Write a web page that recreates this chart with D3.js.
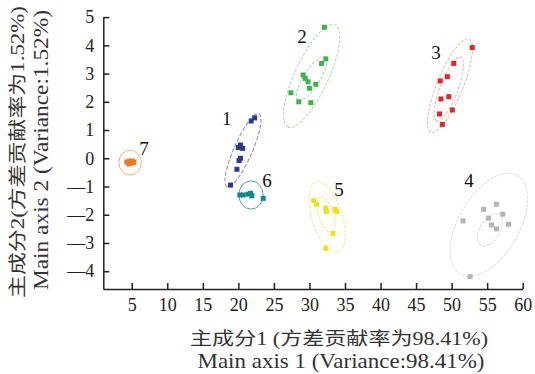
<!DOCTYPE html>
<html lang="zh">
<head>
    <meta charset="UTF-8">
    <title>PCA scatter</title>
    <style>
        body { margin: 0; background: #fff; }
        .axis path,
        .axis line {
            stroke: #222;
            stroke-width: 1.5;
            fill: none;
        }
        .axis text {
            font-family: "Liberation Serif", "Noto Sans CJK SC", serif;
            font-size: 18px;
            fill: #222;
        }
        .title {
            font-family: "Liberation Serif", "Noto Sans CJK SC", serif;
            fill: #333;
        }
    </style>
</head>
<body>
    <div id='chart'></div>

    <script src='https://cdnjs.cloudflare.com/ajax/libs/d3/7.8.5/d3.min.js'></script>
    <script type='text/javascript'>
        const width = 535;
        const height = 374;

        // tick values
        const xTicks = [5, 10, 15, 20, 25, 30, 35, 40, 45, 50, 55, 60];
        const yTicks = [-4, -3, -2, -1, 0, 1, 2, 3, 4, 5];

        // group ids
        const groups = ['1', '2', '3', '4', '5', '6', '7'];

        // scores per group [axis1, axis2]
        const group1 = [[21.8, 1.32], [22.3, 1.43], [20.3, 0.47], [20.0, 0.38], [20.6, 0.35],
                        [20.3, 0.0], [20.1, -0.08], [19.8, -0.39], [18.9, -0.95]];
        const group2 = [[32.1, 4.64], [31.7, 3.36], [32.3, 3.52], [29.1, 2.95], [29.4, 2.83],
                        [29.8, 2.71], [30.9, 2.62], [30.0, 2.48], [27.4, 2.32], [28.5, 2.0], [30.2, 1.97]];
        const group3 = [[52.9, 3.92], [50.3, 3.36], [49.4, 2.89], [48.4, 2.74], [48.5, 2.10],
                        [49.6, 2.18], [48.3, 1.57], [50.1, 1.71], [48.7, 1.20]];
        const group4 = [[56.3, -1.63], [54.5, -1.81], [57.2, -1.98], [55.2, -2.12], [51.6, -2.22],
                        [58.0, -2.34], [55.6, -2.36], [56.3, -2.50], [52.6, -4.19]];
        const group5 = [[30.6, -1.50], [31.0, -1.63], [32.3, -1.77], [32.4, -1.89], [33.6, -1.81],
                        [33.8, -1.89], [33.3, -2.66], [32.3, -3.19]];
        const group6 = [[20.2, -1.30], [20.7, -1.30], [21.4, -1.27], [21.7, -1.24], [21.9, -1.33],
                        [23.5, -1.42]];
        const group7 = [[4.3, -0.13], [4.7, -0.10], [5.1, -0.10], [4.6, -0.20], [5.0, -0.17], [5.3, -0.14]];

        // confidence ellipses: group, major axis end points, minor/major ratio
        const ellipseGroups = ['1', '2', '2', '3', '3', '4', '4', '5', '5', '6', '7'];
        const ellipseEnds = [
            [[22.9, 1.57], [18.4, -1.01]],
            [[33.6, 4.72], [27.0, 1.11]],
            [[32.2, 3.59], [28.4, 2.06]],
            [[52.44, 4.22], [47.1, 0.93]],
            [[51.3, 3.58], [47.9, 1.32]],
            [[59.26, -0.61], [51.24, -4.11]],
            [[56.67, -1.99], [54.13, -3.09]],
            [[30.93, -0.84], [34.03, -3.32]],
            [[31.48, -1.36], [33.17, -2.61]],
            [[21.78, -0.80], [21.78, -1.80]],
            [[4.76, 0.29], [4.76, -0.59]]
        ];
        const ellipseRatios = [0.23, 0.30, 0.32, 0.26, 0.26, 0.53, 0.56, 0.41, 0.40, 0.86, 0.9];

        // group label anchor points
        const labelPos = [[18.36, 1.42], [28.95, 4.31], [47.8, 3.73], [52.44, -0.77],
                          [34.16, -1.09], [24.03, -0.77], [6.73, 0.36]];

        const xTitle = ['主成分1 (方差贡献率为98.41%)', 'Main axis 1 (Variance:98.41%)'];
        const yTitle = ['主成分2(方差贡献率为1.52%)', 'Main axis 2 (Variance:1.52%)'];

        const colors = {
            '1': '#2b3a8f', '2': '#3cb44b', '3': '#e3262b', '4': '#b5b5b5',
            '5': '#ece21c', '6': '#13888a', '7': '#ea7a26'
        };
        const ellipseStyle = {
            '1': { stroke: '#6d76a8', dash: '4,2', op: 0.85 },
            '2': { stroke: '#95d28c', dash: '3,1.5', op: 0.8 },
            '3': { stroke: '#f0a09a', dash: '3,1.5', op: 0.8 },
            '4': { stroke: '#d6d6d6', dash: '3,1', op: 0.85 },
            '5': { stroke: '#eee57a', dash: '3,1', op: 0.85 },
            '6': { stroke: '#4aaaa5', dash: null, op: 1 },
            '7': { stroke: '#f2b27c', dash: null, op: 1 }
        };

        const points = [group1, group2, group3, group4, group5, group6, group7];

        let svg = d3.select('#chart')
                    .append('svg')
                      .attr('width', width)
                      .attr('height', height);

        let xScale = d3.scaleLinear().domain([1, 60]).range([103.3, 522.7]);
        let yScale = d3.scaleLinear().domain([-4.63, 5]).range([289, 17.1]);

        let xAxis = d3.axisBottom(xScale)
                      .tickValues(xTicks)
                      .tickSizeInner(-6)
                      .tickSizeOuter(0)
                      .tickPadding(9);

        let yAxis = d3.axisLeft(yScale)
                      .tickValues(yTicks)
                      .tickSizeInner(-6)
                      .tickSizeOuter(0)
                      .tickPadding(9)
                      .tickFormat(d => d < 0 ? '\u2014' + Math.abs(d) : d);

        svg.append('g')
             .attr('class', 'axis x-axis')
             .attr('transform', `translate(0, ${yScale.range()[0]})`)
           .call(xAxis);

        svg.append('g')
             .attr('class', 'axis y-axis')
             .attr('transform', `translate(${xScale.range()[0]}, 0)`)
           .call(yAxis);

        svg.selectAll('.axis .domain').attr('stroke', '#222').attr('stroke-width', 2);

        // ellipses
        let ell = svg.append('g').attr('class', 'ellipses');
        ellipseEnds.forEach((ends, i) => {
            const g = ellipseGroups[i];
            const p1 = [xScale(ends[0][0]), yScale(ends[0][1])];
            const p2 = [xScale(ends[1][0]), yScale(ends[1][1])];
            const cx = (p1[0] + p2[0]) / 2;
            const cy = (p1[1] + p2[1]) / 2;
            const a = Math.hypot(p2[0] - p1[0], p2[1] - p1[1]) / 2;
            const ang = Math.atan2(p2[1] - p1[1], p2[0] - p1[0]) * 180 / Math.PI;
            const st = ellipseStyle[g];
            ell.append('ellipse')
                 .attr('transform', `translate(${cx}, ${cy}) rotate(${ang})`)
                 .attr('rx', a)
                 .attr('ry', a * ellipseRatios[i])
                 .attr('fill', 'none')
                 .attr('stroke', st.stroke)
                 .attr('stroke-width', 1)
                 .attr('stroke-opacity', st.op)
                 .attr('stroke-dasharray', st.dash);
        });

        // points
        const size = 5;
        groups.forEach((g, i) => {
            svg.append('g')
                 .attr('class', 'dots')
               .selectAll('rect')
               .data(points[i])
               .enter()
               .append('rect')
                 .attr('x', d => xScale(d[0]) - size / 2)
                 .attr('y', d => yScale(d[1]) - size / 2)
                 .attr('width', size)
                 .attr('height', size)
                 .attr('fill', colors[g]);
        });

        // group labels
        svg.append('g')
           .selectAll('text')
           .data(groups)
           .enter()
           .append('text')
             .attr('x', (d, i) => xScale(labelPos[i][0]))
             .attr('y', (d, i) => yScale(labelPos[i][1]))
             .attr('text-anchor', 'middle')
             .attr('dominant-baseline', 'central')
             .style('font-family', '"Liberation Serif", serif')
             .style('font-size', '19px')
             .attr('fill', '#111')
             .text(d => d);

        // axis titles
        svg.append('text')
             .attr('class', 'title')
             .attr('x', 339).attr('y', 339)
             .attr('text-anchor', 'middle')
             .attr('dominant-baseline', 'central')
             .attr('textLength', 298)
             .attr('lengthAdjust', 'spacingAndGlyphs')
             .style('font-size', '18px')
             .text(xTitle[0]);
        svg.append('text')
             .attr('class', 'title')
             .attr('x', 341).attr('y', 361)
             .attr('text-anchor', 'middle')
             .attr('dominant-baseline', 'central')
             .attr('textLength', 287)
             .attr('lengthAdjust', 'spacingAndGlyphs')
             .style('font-size', '21px')
             .text(xTitle[1]);

        svg.append('text')
             .attr('class', 'title')
             .attr('transform', 'translate(18, 152) rotate(-90)')
             .attr('text-anchor', 'middle')
             .attr('dominant-baseline', 'central')
             .attr('textLength', 292)
             .attr('lengthAdjust', 'spacingAndGlyphs')
             .style('font-size', '18px')
             .text(yTitle[0]);
        svg.append('text')
             .attr('class', 'title')
             .attr('transform', 'translate(41, 150) rotate(-90)')
             .attr('text-anchor', 'middle')
             .attr('dominant-baseline', 'central')
             .attr('textLength', 280)
             .attr('lengthAdjust', 'spacingAndGlyphs')
             .style('font-size', '21px')
             .text(yTitle[1]);
    </script>
</body>
</html>
